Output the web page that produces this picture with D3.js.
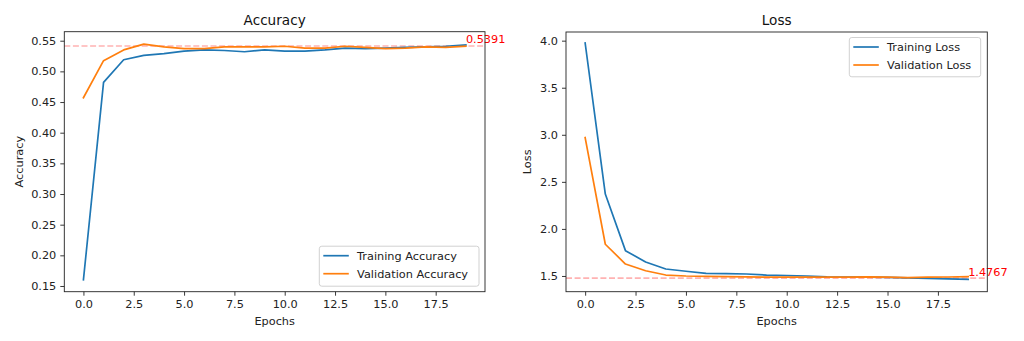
<!DOCTYPE html>
<html>
<head>
<meta charset="utf-8">
<script src="https://cdn.jsdelivr.net/npm/d3@7/dist/d3.min.js"></script>
<style>
  html, body { margin: 0; padding: 0; background: #fff; }
  svg { display: block; font-family: "DejaVu Sans", sans-serif; }
</style>
</head>
<body>
<svg id="chart" width="1024" height="341"></svg>
<script>
// ---- data ----
const epochs = d3.range(0, 20);
const trainAcc = [0.160, 0.482, 0.519, 0.526, 0.529, 0.533, 0.535, 0.534, 0.532, 0.535,
                  0.533, 0.533, 0.535, 0.538, 0.537, 0.538, 0.539, 0.540, 0.541, 0.543];
const valAcc   = [0.457, 0.5175, 0.535, 0.5445, 0.540, 0.537, 0.537, 0.540, 0.540, 0.540,
                  0.541, 0.538, 0.538, 0.541, 0.539, 0.537, 0.538, 0.540, 0.539, 0.541];
const trainLoss = [3.975, 2.370, 1.769, 1.649, 1.574, 1.550, 1.528, 1.525, 1.521, 1.510,
                   1.505, 1.500, 1.490, 1.488, 1.487, 1.485, 1.480, 1.475, 1.470, 1.465];
const valLoss   = [2.970, 1.837, 1.627, 1.556, 1.510, 1.500, 1.495, 1.493, 1.490, 1.488,
                   1.488, 1.487, 1.488, 1.488, 1.490, 1.487, 1.483, 1.487, 1.489, 1.492];
const accTicks  = [0.15, 0.20, 0.25, 0.30, 0.35, 0.40, 0.45, 0.50, 0.55];
const lossTicks = [1.5, 2.0, 2.5, 3.0, 3.5, 4.0];
const epochTicks = [0, 2.5, 5, 7.5, 10, 12.5, 15, 17.5];
const accRefLine = 0.5415, accRefLabel = "0.5391", accRefX = 19;
const lossRefLine = 1.4767, lossRefLabel = "1.4767", lossRefX = 19;

// ---- drawing ----
const svg = d3.select("#chart");
const BLUE = "#1f77b4", ORANGE = "#ff7f0e";
const FS = 11.3;

function panel(opts) {
  const { x0, x1, y0, y1, yDomain, yTicks, yFmt, title, ylabel, ylabelX,
          series, ref, legend } = opts;
  const x = d3.scaleLinear().domain([-0.95, 19.95]).range([x0, x1]);
  const y = d3.scaleLinear().domain(yDomain).range([y1, y0]);
  const g = svg.append("g");

  // clip
  const cid = "clip" + Math.round(x0);
  g.append("clipPath").attr("id", cid).append("rect")
    .attr("x", x0).attr("y", y0).attr("width", x1 - x0).attr("height", y1 - y0);

  // ref dashed line
  g.append("line")
    .attr("x1", x0).attr("x2", x1)
    .attr("y1", y(ref.value)).attr("y2", y(ref.value))
    .attr("stroke", "red").attr("stroke-opacity", 0.3)
    .attr("stroke-width", 1.6).attr("stroke-dasharray", "6,2.6");

  // series
  const line = d3.line().x((d, i) => x(epochs[i])).y(d => y(d));
  series.forEach(s => {
    g.append("path").datum(s.values)
      .attr("d", line).attr("fill", "none")
      .attr("stroke", s.color).attr("stroke-width", 1.7)
      .attr("stroke-linejoin", "round").attr("stroke-linecap", "square")
      .attr("clip-path", `url(#${cid})`);
  });

  // ref label
  g.append("text")
    .attr("x", x(ref.x)).attr("y", y(ref.value) - 2.6)
    .attr("fill", "red").attr("font-size", FS)
    .text(ref.label);

  // axes
  const xa = g.append("g").attr("transform", `translate(0,${y1})`)
    .call(d3.axisBottom(x).tickValues(epochTicks).tickFormat(d3.format(".1f"))
      .tickSize(4).tickPadding(4.5));
  const ya = g.append("g").attr("transform", `translate(${x0},0)`)
    .call(d3.axisLeft(y).tickValues(yTicks).tickFormat(d3.format(yFmt))
      .tickSize(4).tickPadding(4));
  [xa, ya].forEach(a => {
    a.select(".domain").remove();
    a.selectAll("line").attr("stroke", "#222").attr("stroke-width", 0.9);
    a.selectAll("text").attr("font-size", FS).attr("fill", "#222")
      .attr("font-family", "DejaVu Sans, sans-serif");
  });

  // frame
  g.append("rect").attr("x", x0).attr("y", y0)
    .attr("width", x1 - x0).attr("height", y1 - y0)
    .attr("fill", "none").attr("stroke", "#222").attr("stroke-width", 0.9);

  // title & labels
  g.append("text").attr("x", (x0 + x1) / 2).attr("y", 24.5)
    .attr("text-anchor", "middle").attr("font-size", 13.6).attr("fill", "#111")
    .text(title);
  g.append("text").attr("x", (x0 + x1) / 2).attr("y", 324.5)
    .attr("text-anchor", "middle").attr("font-size", FS).attr("fill", "#222")
    .text("Epochs");
  g.append("text")
    .attr("transform", `translate(${ylabelX},${(y0 + y1) / 2}) rotate(-90)`)
    .attr("text-anchor", "middle").attr("font-size", FS).attr("fill", "#222")
    .text(ylabel);

  // legend
  const lg = g.append("g");
  lg.append("rect").attr("x", legend.x).attr("y", legend.y)
    .attr("width", legend.w).attr("height", legend.h).attr("rx", 2.5)
    .attr("fill", "white").attr("fill-opacity", 0.8)
    .attr("stroke", "#cccccc").attr("stroke-width", 0.9);
  series.forEach((s, i) => {
    const cy = legend.y + 9.5 + i * 18;
    lg.append("line").attr("x1", legend.x + 4).attr("x2", legend.x + 29.5)
      .attr("y1", cy).attr("y2", cy)
      .attr("stroke", s.color).attr("stroke-width", 1.7);
    lg.append("text").attr("x", legend.x + 37.8).attr("y", cy + 4)
      .attr("font-size", FS).attr("fill", "#222").text(s.name);
  });
}

panel({
  x0: 64.3, x1: 485, y0: 31.7, y1: 291.7,
  yDomain: [0.1407, 0.5647], yTicks: accTicks, yFmt: ".2f",
  title: "Accuracy", ylabel: "Accuracy", ylabelX: 22.5,
  series: [
    { name: "Training Accuracy", values: trainAcc, color: BLUE },
    { name: "Validation Accuracy", values: valAcc, color: ORANGE }
  ],
  ref: { value: accRefLine, label: accRefLabel, x: accRefX },
  legend: { x: 319.3, y: 246.2, w: 159.7, h: 40 }
});

panel({
  x0: 566, x1: 987.3, y0: 32, y1: 291.7,
  yDomain: [1.333, 4.092], yTicks: lossTicks, yFmt: ".1f",
  title: "Loss", ylabel: "Loss", ylabelX: 531,
  series: [
    { name: "Training Loss", values: trainLoss, color: BLUE },
    { name: "Validation Loss", values: valLoss, color: ORANGE }
  ],
  ref: { value: lossRefLine, label: lossRefLabel, x: lossRefX },
  legend: { x: 849.3, y: 37.5, w: 131.4, h: 39.3 }
});
</script>
</body>
</html>
